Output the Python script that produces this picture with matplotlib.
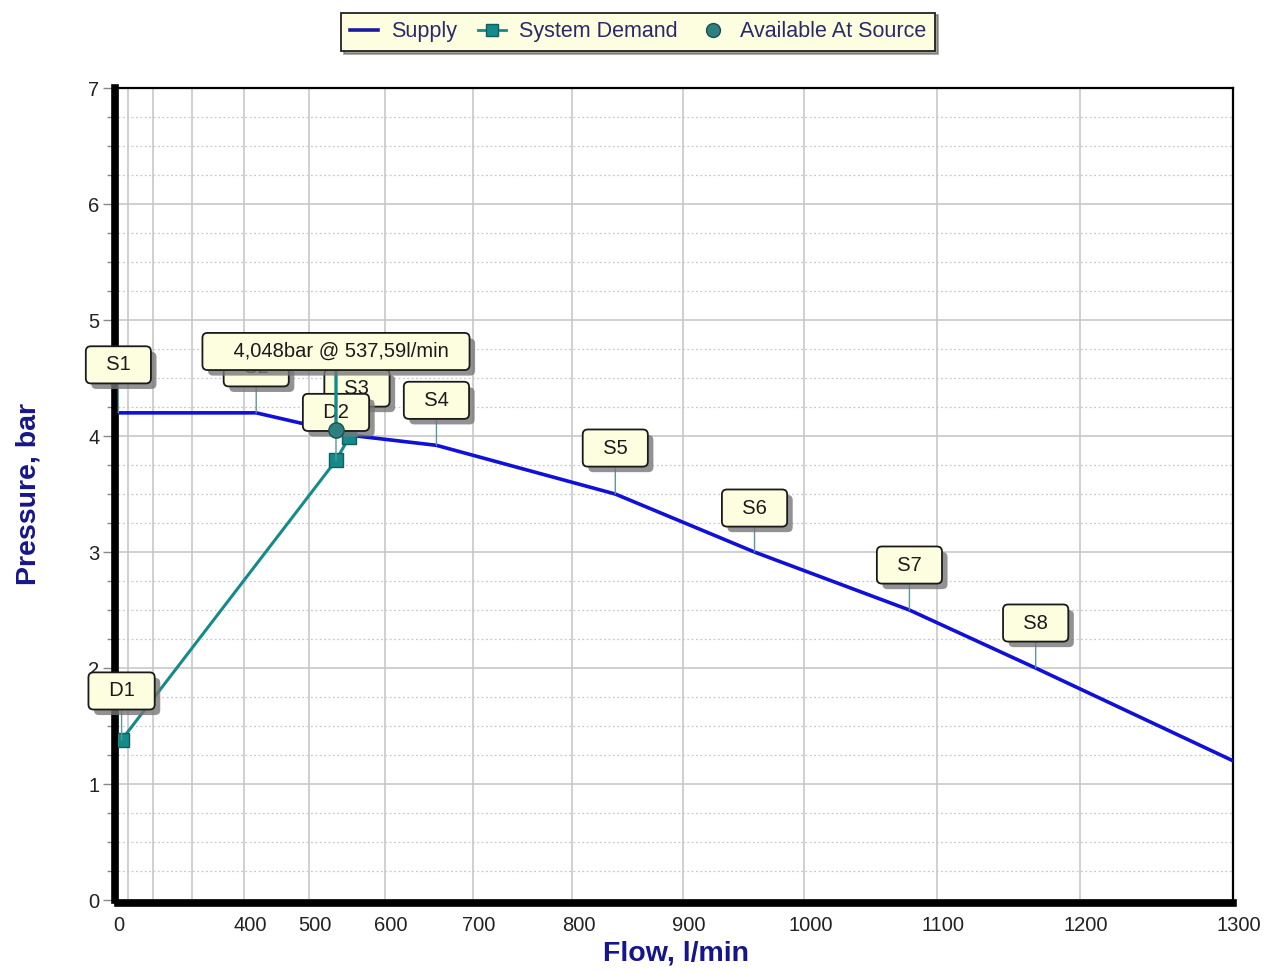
import numpy as np
import matplotlib
matplotlib.use("Agg")
import matplotlib.pyplot as plt
import matplotlib.transforms as mtransforms
import matplotlib.patheffects as pe
from matplotlib.lines import Line2D

# supply curve points S1..S8 + end of curve
supply_flow = [0, 420, 565, 660, 840, 960, 1080, 1170, 1300]
supply_pres = [4.2, 4.2, 4.0, 3.92, 3.5, 3.0, 2.5, 2.0, 1.2]
supply_names = ["S1", "S2", "S3", "S4", "S5", "S6", "S7", "S8"]

# system demand points
demand_flow = [55, 537.59, 555]
demand_pres = [1.38, 3.79, 3.99]
demand_names = ["D1", "D2"]

# available at source
avail_flow = 537.59
avail_pres = 4.048

x_ticks = list(range(0, 1301, 100))
x_labels = ["0", "", "", ""] + [str(v) for v in range(400, 1301, 100)]

SUPPLY_C = "#1010d8"
DEMAND_C = "#158a8a"
NAVY = "#16168a"
BOX_FC = "#fdfde0"
LEADER_C = "#5b9898"
FONT = "Liberation Sans"


def fwd(x):
    x = np.asarray(x, dtype=float)
    return np.sign(x) * np.abs(x) ** 1.85


def inv(x):
    x = np.asarray(x, dtype=float)
    return np.sign(x) * np.abs(x) ** (1 / 1.85)


plt.rcParams['font.family'] = [FONT, 'DejaVu Sans']

fig = plt.figure(figsize=(12.66, 9.73), dpi=100)
ax = fig.add_axes([0.0935, 0.075, 0.8805, 0.8345])
ax.set_xscale('function', functions=(fwd, inv))
ax.set_xlim(0, 1300)
ax.set_ylim(0, 7)

ax.tick_params(axis='y', which='major', length=9, width=1, color="#888888",
               labelsize=14.5, labelcolor="#222222", pad=2)
ax.tick_params(axis='y', which='minor', length=6, width=1, color="#888888")
ax.tick_params(axis='x', which='major', length=0, pad=9,
               labelsize=14.5, labelcolor="#222222")

ax.set_xticks(x_ticks)
ax.set_xticklabels(x_labels)
ax.set_yticks(range(0, 8))
ax.set_yticks(np.arange(0, 7.01, 0.25), minor=True)

ax.grid(True, which='major', color="#c8c8c8", lw=1.2)
ax.grid(True, which='minor', axis='y', color="#c8c8c8", lw=0.9, ls=(0, (1.5, 2)))
ax.set_axisbelow(True)

for side in ['left', 'bottom']:
    ax.spines[side].set_linewidth(5.5)
    ax.spines[side].set_position(('outward', 2.5))
for side in ['top', 'right']:
    ax.spines[side].set_linewidth(1.6)

ax.set_xlabel("Flow, l/min", fontsize=20.5, fontweight='bold', color=NAVY, labelpad=4)
ax.set_ylabel("Pressure, bar", fontsize=20.5, fontweight='bold', color=NAVY, labelpad=34)

ax.plot(supply_flow, supply_pres, color=SUPPLY_C, lw=2.6, zorder=3)
ax.plot(demand_flow, demand_pres, color=DEMAND_C, lw=2.2, marker='s', ms=10,
        mfc=DEMAND_C, mec="#0f5f5f", zorder=4)

shadow = [pe.SimplePatchShadow(offset=(4, -4), shadow_rgbFace="#777777", alpha=0.8),
          pe.Normal()]


def label(text, xy, dy, z=5, fs=14.5, lc=LEADER_C, llw=1.0):
    ann = ax.annotate(text, xy=xy, xytext=(0, dy), textcoords='offset pixels',
                      ha='center', va='center', fontsize=fs, color="#1a1a1a",
                      bbox=dict(boxstyle="round,pad=0.45,rounding_size=0.25",
                                fc=BOX_FC, ec="#1a1a1a", lw=1.3),
                      arrowprops=dict(arrowstyle='-', color=lc, lw=llw,
                                      shrinkA=0, shrinkB=0),
                      zorder=z, annotation_clip=False)
    ann.get_bbox_patch().set_path_effects(shadow)
    return ann


s_offsets = [48, 45, 48, 45, 46, 44, 45, 45]
for name, q, p, off in zip(supply_names, supply_flow, supply_pres, s_offsets):
    label("  " + name + "  ", (q, p), off, z=5)

d_offsets = [49, 48]
for name, q, p, off in zip(demand_names, demand_flow, demand_pres, d_offsets):
    label("  " + name + "  ", (q, p), off, z=6)

label("    %sbar @ %sl/min  " % (f"{avail_pres:.3f}".replace('.', ','),
                                f"{avail_flow:.2f}".replace('.', ',')),
      (avail_flow, avail_pres), 79, z=7, lc=DEMAND_C, llw=2.4)

ax.plot([avail_flow], [avail_pres], marker='o', ms=11, color="#2e7f7f",
        mec="#1a4f4f", ls='none', zorder=9)

handles = [
    Line2D([], [], color="#1a1aa0", lw=2.6),
    Line2D([], [], color=DEMAND_C, lw=2, marker='s', ms=9, mfc=DEMAND_C, mec="#0f5f5f"),
    Line2D([], [], color="#2e7f7f", marker='o', ms=10, mec="#1a4f4f", ls='none'),
]
leg = fig.legend(handles, ["Supply", "System Demand", "Available At Source"],
                 loc='upper center', bbox_to_anchor=(0.504, 0.998), ncol=3,
                 fontsize=15.5, frameon=True, fancybox=False, shadow=True,
                 handlelength=1.3, handletextpad=0.6, columnspacing=1.0,
                 borderpad=0.4)
leg.get_frame().set_facecolor(BOX_FC)
leg.get_frame().set_edgecolor("#222222")
leg.get_frame().set_linewidth(1.3)
for t in leg.get_texts():
    t.set_color("#2a2a6a")

# tick labels sit a few pixels right of their grid lines in the original
fig.canvas.draw()
shift = mtransforms.ScaledTranslation(6 / 100, 0, fig.dpi_scale_trans)
for tick in ax.xaxis.get_major_ticks()[1:]:
    tick.label1.set_transform(tick.label1.get_transform() + shift)

fig.savefig("out.png", dpi=100)
